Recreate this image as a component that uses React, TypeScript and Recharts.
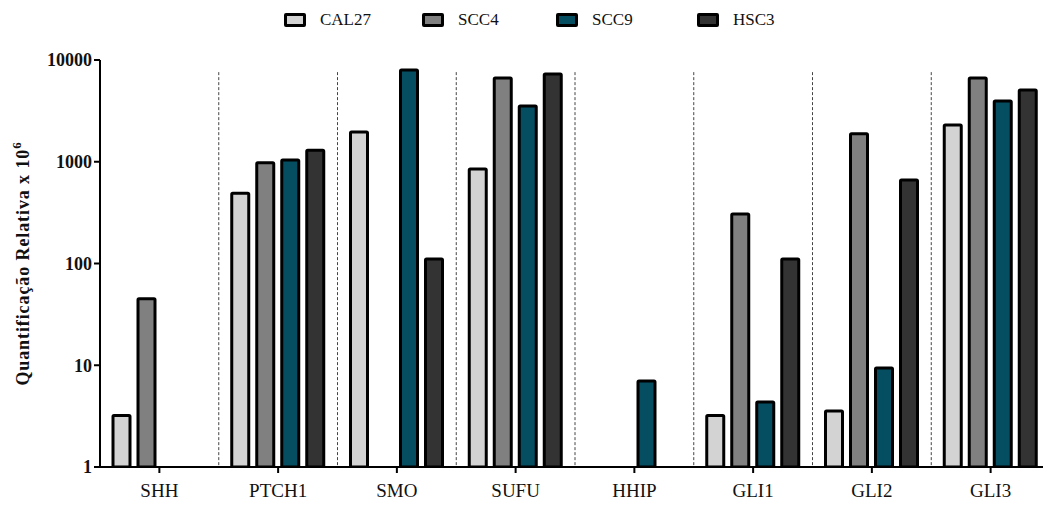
import React from 'react'
import {
  BarChart, Bar, XAxis, YAxis, ReferenceLine,
} from 'recharts'

const GENES = ['SHH', 'PTCH1', 'SMO', 'SUFU', 'HHIP', 'GLI1', 'GLI2', 'GLI3']
const CAL27 = [3.2, 490, 1960, 850, null, 3.2, 3.55, 2300]
const SCC4 = [45, 980, null, 6650, null, 307, 1880, 6650]
const SCC9 = [null, 1040, 7980, 3530, 7.0, 4.35, 9.4, 3950]
const HSC3 = [null, 1300, 111, 7280, null, 111, 660, 5070]
const Y_TICKS = [1, 10, 100, 1000, 10000]

const SERIES = [
  { key: 'CAL27', values: CAL27, color: '#d3d3d3', legendX: 284 },
  { key: 'SCC4', values: SCC4, color: '#808080', legendX: 422 },
  { key: 'SCC9', values: SCC9, color: '#054d60', legendX: 556 },
  { key: 'HSC3', values: HSC3, color: '#333333', legendX: 697 },
]

const data = GENES.map((gene, i) => {
  const row: Record<string, string | number | null> = { gene }
  SERIES.forEach((s) => { row[s.key] = s.values[i] })
  return row
})

const FONT = '"Liberation Serif", "DejaVu Serif", serif'

function YLabel(props: any) {
  const { viewBox } = props
  const x = viewBox.x + 29
  const y = viewBox.y + viewBox.height / 2
  return (
    <text
      x={x}
      y={y}
      transform={`rotate(-90, ${x}, ${y})`}
      textAnchor="middle"
      fontFamily={FONT}
      fontWeight="bold"
      fontSize={18}
      letterSpacing={0.9}
      fill="#111"
    >
      Quantificação Relativa x 10
      <tspan dy={-8} fontSize={13}>6</tspan>
    </text>
  )
}

export default function App() {
  return (
    <div style={{ position: 'absolute', left: 0, top: 0, width: 1043, height: 505, background: '#fff', overflow: 'hidden' }}>
      {/* legend */}
      {SERIES.map((s) => (
        <div
          key={s.key}
          style={{
            position: 'absolute', left: s.legendX, top: 9, height: 22,
            display: 'flex', alignItems: 'center', fontFamily: FONT, fontSize: 17, color: '#111',
          }}
        >
          <span
            style={{
              display: 'inline-block', width: 16, height: 8, background: s.color,
              border: '3px solid #000', borderRadius: 2, marginRight: 14,
            }}
          />
          {s.key}
        </div>
      ))}

      <BarChart
        width={1043}
        height={505}
        data={data}
        margin={{ top: 60, right: -7, bottom: 0, left: 0 }}
        barSize={17}
        barGap={8}
      >
        <XAxis
          dataKey="gene"
          height={38}
          tick={{ fontSize: 19, fill: '#111', fontFamily: FONT }}
          tickSize={6}
          tickMargin={11}
          axisLine={{ stroke: '#000', strokeWidth: 2 }}
          tickLine={{ stroke: '#000', strokeWidth: 2 }}
        />
        <YAxis
          scale="log"
          domain={[1, 10000]}
          ticks={Y_TICKS}
          allowDataOverflow
          width={100}
          tick={{ fontSize: 18, fill: '#111', fontFamily: FONT, fontWeight: 'bold' }}
          tickSize={6}
          axisLine={{ stroke: '#000', strokeWidth: 2 }}
          tickLine={{ stroke: '#000', strokeWidth: 2 }}
          label={<YLabel />}
        />
        {/* dashed separators at the left edge of each category band */}
        {GENES.slice(1).map((g) => (
          <ReferenceLine
            key={g}
            segment={[{ x: g, y: 7600 }, { x: g, y: 1 }]}
            position="start"
            stroke="#444"
            strokeDasharray="3 2"
            strokeWidth={1}
          />
        ))}
        {SERIES.map((s) => (
          <Bar
            key={s.key}
            dataKey={s.key}
            fill={s.color}
            stroke="#000"
            strokeWidth={3}
            radius={1}
            isAnimationActive={false}
          />
        ))}
      </BarChart>
    </div>
  )
}
